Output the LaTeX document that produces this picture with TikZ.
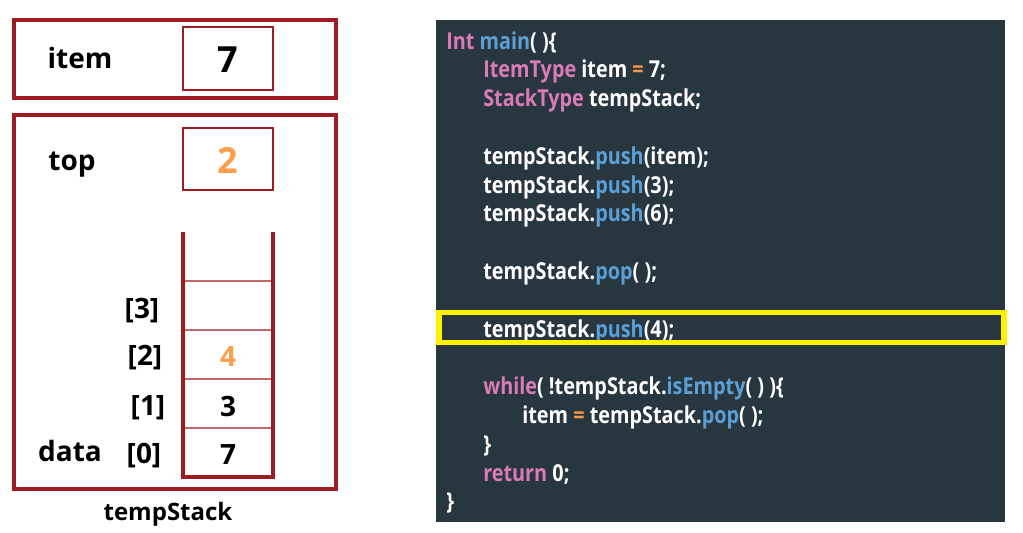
\documentclass[tikz,border=0pt]{standalone}
\usepackage{fontspec}
\setmainfont{Open Sans}
\newfontfamily\codefont{Open Sans}[FakeStretch=0.85]
\usepackage{tikz}

\definecolor{boxred}{HTML}{9E1B22}
\definecolor{sepred}{HTML}{C2686C}
\definecolor{valorange}{HTML}{F9A04A}
\definecolor{codebg}{HTML}{28363F}
\definecolor{kwpink}{HTML}{DA7BB8}
\definecolor{fnblue}{HTML}{5AA0D6}
\definecolor{oporange}{HTML}{F79646}
\newcommand{\kw}[1]{\textcolor{kwpink}{#1}}
\newcommand{\fn}[1]{\textcolor{fnblue}{#1}}
\newcommand{\op}[1]{\textcolor{oporange}{#1}}

\begin{document}
\begin{tikzpicture}[x=0.75pt, y=-0.75pt,
	lbl/.style={font=\fontsize{21}{25}\selectfont\bfseries, inner sep=0pt, anchor=base},
	bigval/.style={font=\fontsize{27}{30}\selectfont\bfseries, inner sep=0pt, anchor=base},
	code/.style={font=\codefont\fontsize{17.5}{20}\selectfont\bfseries, text=white, inner sep=0pt, anchor=base west},
	outerbox/.style={draw=boxred, line width=2.3pt},
	cellbox/.style={draw=boxred, line width=1.6pt}]
	\useasboundingbox (0,0) rectangle (1023,532);
	\draw[outerbox] (14,20) rectangle (336,98);
	\draw[cellbox] (183,27) rectangle (273,90);
	\node[lbl] (itemlbl) at (80,68) {item};
	\node[bigval] (itemval) at (228,72) {7};
	\draw[outerbox] (14,115) rectangle (336,489);
	\draw[cellbox] (183,128) rectangle (273,190);
	\node[lbl] (toplbl) at (72,170) {top};
	\node[bigval, text=valorange] (topval) at (228,173) {2};
	\draw[sepred, line width=1.2pt] (183,281) -- (273,281) (183,330) -- (273,330) (183,379) -- (273,379) (183,428) -- (273,428);
	\draw[boxred, line width=2.3pt] (183,232) -- (183,477) -- (273,477) -- (273,232);
	\node[lbl] (i3) at (142,318) {[3]};
	\node[lbl] (i2) at (145,365) {[2]};
	\node[lbl] (i1) at (148,415) {[1]};
	\node[lbl] (i0) at (144,463) {[0]};
	\node[lbl] (datalbl) at (70,461) {data};
	\node[lbl, text=valorange] (v2) at (228,366) {4};
	\node[lbl] (v1) at (228,416) {3};
	\node[lbl] (v0) at (228,464) {7};
	\node[lbl, font=\fontsize{18}{22}\selectfont\bfseries] (stacklbl) at (168,520) {tempStack};
	\fill[codebg] (436,20) rectangle (1005,522);
	\node[code] (l0) at (446,49) {\kw{Int} \fn{main}( )\{};
	\node[code] (l1) at (483,77.8) {\kw{ItemType} item \op{=} 7;};
	\node[code] (l2) at (483,106.6) {\kw{StackType} tempStack;};
	\node[code] (l4) at (483,164.2) {tempStack.\fn{push}(item);};
	\node[code] (l5) at (483,193) {tempStack.\fn{push}(3);};
	\node[code] (l6) at (483,221.8) {tempStack.\fn{push}(6);};
	\node[code] (l8) at (483,279.4) {tempStack.\fn{pop}( );};
	\node[code] (l10) at (483,337) {tempStack.\fn{push}(4);};
	\node[code] (l12) at (483,394.6) {\kw{while}( !tempStack.\fn{isEmpty}( ) )\{};
	\node[code] (l13) at (522,423.4) {item \op{=} tempStack.\fn{pop}( );};
	\node[code] (l14) at (483,452.2) {\}};
	\node[code] (l15) at (483,481) {\kw{return} 0;};
	\node[code] (l16) at (446,509.8) {\}};
	\draw[yellow, line width=3.8pt] (439,327.5) ++(0,-15) rectangle (1004,342.5);
\end{tikzpicture}
\end{document}
